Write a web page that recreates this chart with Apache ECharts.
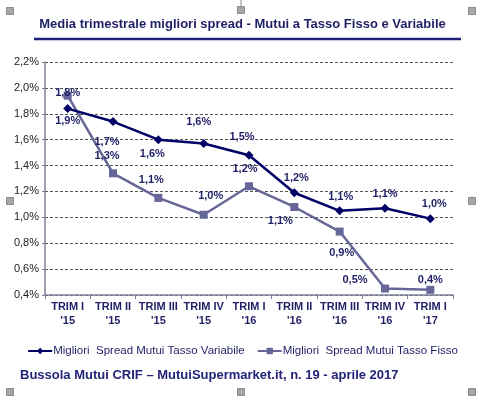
<!DOCTYPE html>
<html>
<head>
<meta charset="utf-8">
<script src="https://cdn.jsdelivr.net/npm/echarts@6/dist/echarts.min.js"></script>
<style>
  html, body { margin: 0; padding: 0; background: #fff; }
  #chart { width: 485px; height: 399px; }
</style>
</head>
<body>
<div id="chart"></div>
<script>
// dati
const quarters = ["TRIM I\n'15", "TRIM II\n'15", "TRIM III\n'15", "TRIM IV\n'15", "TRIM I\n'16",
                  "TRIM II\n'16", "TRIM III\n'16", "TRIM IV\n'16", "TRIM I\n'17"]
const spreadVariabile = [1.84, 1.74, 1.60, 1.57, 1.48, 1.19, 1.05, 1.07, 0.99]
const spreadFisso = [1.94, 1.34, 1.15, 1.02, 1.24, 1.08, 0.89, 0.45, 0.44]

// spostamento delle etichette rispetto al punto
const varLabelOffset = [[0, -16], [-6, 20], [-6, 14], [-5, -22], [-7, -18], [2, -15], [1, -14], [0, -14], [4, -15]]
const fixLabelOffset = [[0, 25], [-6, -17], [-7, -18], [7, -19], [-4, -17], [-14, 14], [2, 21], [-30, -9], [0, -10]]

const navy = '#1f1f66'
const fmt = v => v.toFixed(1).replace('.', ',') + '%'

const chart = echarts.init(document.getElementById('chart'))

const buildData = (values, offsets) => values.map((v, i) => ({
    value: v,
    label: { position: 'inside', offset: offsets[i] }
}))

const labelStyle = {
    show: true,
    formatter: p => fmt(p.value),
    color: navy,
    fontFamily: 'Arial, "Liberation Sans"',
    fontWeight: 'bold',
    fontSize: 11
}

// maniglie grigie di selezione
const handles = [[10, 11], [241, 10], [472, 11], [10, 201], [472, 201], [10, 392], [241, 392], [472, 392]]
const handleGraphics = handles.map(h => ({
    type: 'rect',
    shape: { x: h[0] - 3.5, y: h[1] - 3.5, width: 7, height: 7 },
    style: { fill: '#a6a6a6', stroke: '#8c8c8c', lineWidth: 1 },
    z: 100
}))

const option = {
    backgroundColor: '#fff',
    animation: false,
    title: {
        text: 'Media trimestrale migliori spread - Mutui a Tasso Fisso e Variabile',
        left: 'center',
        top: 13,
        textStyle: {
            color: navy,
            fontFamily: 'Arial, "Liberation Sans"',
            fontWeight: 'bold',
            fontSize: 13
        }
    },
    graphic: [
        {
            type: 'line',
            shape: { x1: 34, y1: 39, x2: 461, y2: 39 },
            style: { stroke: '#1f1f7a', lineWidth: 2.5 }
        },
        {
            type: 'line',
            shape: { x1: 241, y1: 0, x2: 241, y2: 7 },
            style: { stroke: '#8c8c8c', lineWidth: 1 }
        },
        {
            type: 'text',
            left: 20,
            top: 369,
            style: {
                text: 'Bussola Mutui CRIF \u2013 MutuiSupermarket.it, n. 19 - aprile 2017',
                fill: '#23237a',
                font: 'bold 13px Arial, "Liberation Sans"'
            }
        }
    ].concat(handleGraphics),
    legend: {
        top: 340,
        left: 'center',
        itemWidth: 24,
        itemHeight: 8,
        itemGap: 12,
        textStyle: {
            color: navy,
            fontFamily: 'Arial, "Liberation Sans"',
            fontSize: 11.5,
            padding: [0, 0, 0, -4]
        },
        data: ['Migliori  Spread Mutui Tasso Variabile', 'Migliori  Spread Mutui Tasso Fisso']
    },
    grid: { left: 45, right: 32, top: 62, bottom: 104 },
    xAxis: {
        type: 'category',
        data: quarters,
        boundaryGap: true,
        axisLine: { lineStyle: { color: '#80809a', width: 1.5 } },
        axisTick: { show: true, length: 4, lineStyle: { color: '#80809a' } },
        axisLabel: {
            interval: 0,
            color: navy,
            fontFamily: 'Arial, "Liberation Sans"',
            fontWeight: 'bold',
            fontSize: 11,
            lineHeight: 14,
            margin: 5
        }
    },
    yAxis: {
        type: 'value',
        min: 0.4,
        max: 2.2,
        interval: 0.2,
        axisLine: { show: true, lineStyle: { color: '#80809a', width: 1.5 } },
        axisTick: { show: true, length: 3, lineStyle: { color: '#80809a' } },
        axisLabel: {
            formatter: v => fmt(v),
            color: '#222',
            fontFamily: 'Arial, "Liberation Sans"',
            fontSize: 11,
            margin: 6
        },
        splitLine: { lineStyle: { color: '#555', type: [3, 2], width: 1 } }
    },
    series: [
        {
            name: 'Migliori  Spread Mutui Tasso Variabile',
            type: 'line',
            data: buildData(spreadVariabile, varLabelOffset),
            symbol: 'diamond',
            symbolSize: 9,
            lineStyle: { color: '#000066', width: 2.5 },
            itemStyle: { color: '#000066' },
            label: labelStyle,
            z: 3
        },
        {
            name: 'Migliori  Spread Mutui Tasso Fisso',
            type: 'line',
            data: buildData(spreadFisso, fixLabelOffset),
            symbol: 'rect',
            symbolSize: 8,
            lineStyle: { color: '#666699', width: 2.5 },
            itemStyle: { color: '#666699' },
            label: labelStyle,
            z: 2
        }
    ]
}

chart.setOption(option)
</script>
</body>
</html>
